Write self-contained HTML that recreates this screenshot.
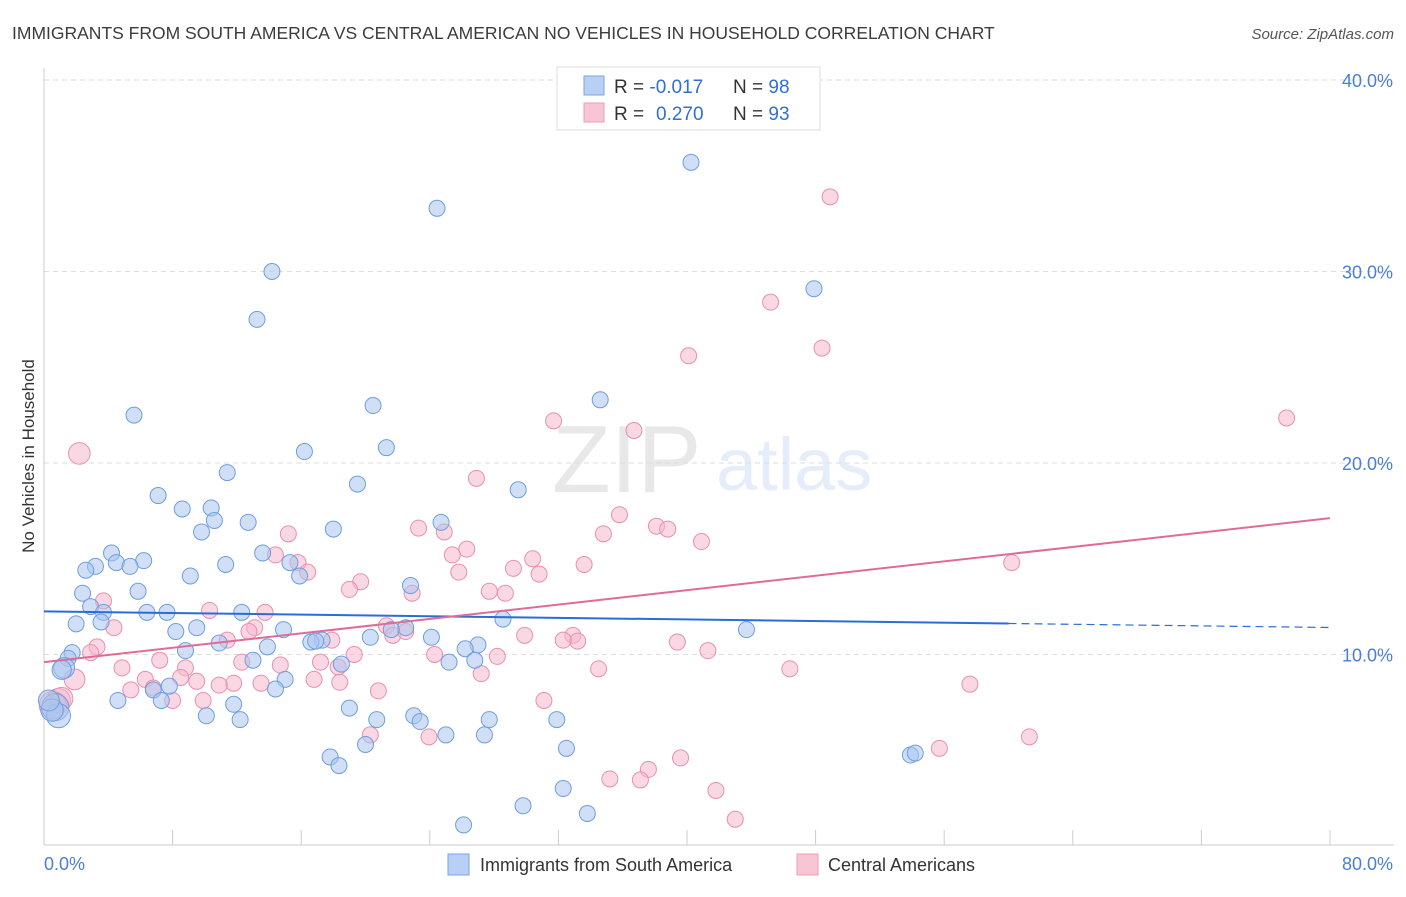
<!DOCTYPE html>
<html><head><meta charset="utf-8">
<style>
body{margin:0;background:#fff;font-family:"Liberation Sans",sans-serif;}
svg text{font-family:"Liberation Sans",sans-serif;}
</style></head>
<body>
<svg id="chart" width="1406" height="892" xmlns="http://www.w3.org/2000/svg">
<text x="12" y="39" font-size="17.5" fill="#3c3c3c">IMMIGRANTS FROM SOUTH AMERICA VS CENTRAL AMERICAN NO VEHICLES IN HOUSEHOLD CORRELATION CHART</text>
<text x="1394" y="39" font-size="15" fill="#555" text-anchor="end" font-style="italic">Source: ZipAtlas.com</text>
<text transform="translate(34,456) rotate(-90)" font-size="17" fill="#333" text-anchor="middle">No Vehicles in Household</text>
<g opacity="0.13">
<text x="552" y="492" font-size="96" font-family="Liberation Serif,serif" fill="#555">ZIP</text>
<text x="716" y="490" font-size="74" fill="#3a78d4">atlas</text>
</g>
<g id="grid"></g>
<g id="axes"></g>
<g id="pts"></g>
<g id="lines"></g>
<g>
<rect x="557" y="67" width="263" height="63" fill="#fff" stroke="#ddd"/>
<rect x="584" y="76" width="20" height="19" fill="#b7d0f3" stroke="#7aa6e6"/>
<rect x="584" y="103" width="20" height="19" fill="#f8c5d5" stroke="#ee9bb8"/>
<text x="614" y="93" font-size="19" fill="#333">R = <tspan fill="#2f6fd6">-0.017</tspan><tspan x="733">N = </tspan><tspan fill="#2f6fd6">98</tspan></text>
<text x="614" y="120" font-size="19" fill="#333">R = <tspan x="656" fill="#2f6fd6">0.270</tspan><tspan x="733">N = </tspan><tspan fill="#2f6fd6">93</tspan></text>
</g>
<g>
<rect x="448" y="854" width="21" height="21" fill="#b7d0f3" stroke="#7aa6e6"/>
<text x="480" y="871" font-size="18" fill="#333">Immigrants from South America</text>
<rect x="797" y="854" width="21" height="21" fill="#f8c5d5" stroke="#ee9bb8"/>
<text x="828" y="871" font-size="18" fill="#333">Central Americans</text>
</g>
</svg>
<script>
const blueX=[40.25,24.45,14.18,47.9,13.25,34.6,5.6,20.47,21.3,16.2,11.4,29.5,19.5,7.1,8.6,10.4,10.6,12.7,24.7,18.0,9.8,4.2,6.2,4.5,3.2,2.6,5.35,13.6,15.3,11.3,9.1,15.9,22.8,2.4,5.85,2.9,7.65,6.4,3.7,12.3,28.55,3.55,2.0,8.2,9.5,14.9,43.7,22.5,21.6,20.3,24.1,17.3,16.6,16.9,13.9,27.0,26.2,1.75,8.8,10.9,1.5,1.25,26.8,25.2,13.0,18.5,1.1,15.0,14.4,7.8,6.8,4.6,7.3,11.8,19.0,10.1,12.2,20.7,23.0,23.4,27.7,31.9,25.0,27.4,20.0,32.5,17.8,18.35,53.9,54.2,29.8,32.3,33.8,26.1,0.7,0.9,0.5,0.3];
const blueY=[35.7,33.3,30.0,29.1,27.5,23.3,22.5,23.0,20.8,20.6,19.5,18.6,18.9,18.3,17.6,17.65,17.0,16.9,16.9,16.55,16.4,15.3,14.9,14.8,14.6,14.4,14.6,15.3,14.8,14.7,14.1,14.1,13.6,13.2,13.3,12.5,12.2,12.2,12.2,12.2,11.85,11.7,11.6,11.2,11.4,11.3,11.3,11.4,11.3,10.9,10.9,10.75,10.65,10.7,10.4,10.5,10.3,10.1,10.2,10.6,9.8,9.3,9.7,9.6,9.7,9.5,9.2,8.7,8.2,8.35,8.15,7.6,7.6,7.4,7.2,6.8,6.6,6.6,6.8,6.5,6.6,6.6,5.8,5.8,5.3,5.1,4.65,4.2,4.75,4.85,2.1,3.0,1.7,1.1,7.25,6.8,7.1,7.6];
const blueSize=[1,1,1,1,1,1,1,1,1,1,1,1,1,1,1,1,1,1,1,1,1,1,1,1,1,1,1,1,1,1,1,1,1,1,1,1,1,1,1,1,1,1,1,1,1,1,1,1,1,1,1,1,1,1,1,1,1,1,1,1,1,1.3,1,1,1,1,1.2,1,1,1,1,1,1,1,1,1,1,1,1,1,1,1,1,1,1,1,1,1,1,1,1,1,1,1,1.7,1.5,1.4,1.3];
const pinkX=[48.9,45.2,48.4,40.1,77.3,31.7,36.7,2.2,26.9,35.8,38.1,38.8,23.3,24.9,34.8,40.9,15.2,26.3,25.4,30.4,14.4,15.8,16.4,33.6,60.2,29.2,30.8,25.8,19.7,19.0,22.9,27.7,28.7,3.7,10.3,13.75,4.35,13.1,21.3,29.9,32.9,33.2,32.3,21.7,12.75,11.4,39.4,3.3,2.9,22.5,41.3,17.9,19.3,24.3,28.2,12.3,17.2,14.7,4.85,7.2,8.8,18.3,34.5,46.4,1.9,6.3,8.5,9.5,11.8,10.9,13.5,16.8,18.4,27.2,5.4,6.8,8.0,9.9,20.8,31.1,57.6,0.9,1.1,0.55,20.3,23.95,61.3,55.7,39.6,37.6,35.2,37.1,41.8,43.0];
const pinkY=[33.9,28.4,26.0,25.6,22.35,22.2,21.7,20.5,19.2,17.3,16.7,16.55,16.6,16.4,16.3,15.9,16.3,15.5,15.2,15.0,15.2,14.8,14.3,14.7,14.8,14.5,14.2,14.3,13.8,13.4,13.2,13.3,13.2,12.8,12.3,12.2,11.4,11.4,11.5,11.0,11.0,10.7,10.75,11.0,11.2,10.75,10.65,10.4,10.1,11.2,10.2,10.75,10.0,10.0,9.9,9.6,9.6,9.45,9.3,9.7,9.3,9.35,9.25,9.25,8.7,8.7,8.8,8.6,8.5,8.4,8.5,8.7,8.55,9.0,8.15,8.25,7.6,7.6,8.1,7.6,8.45,7.6,7.7,7.35,5.8,5.7,5.7,5.1,4.6,4.0,3.5,3.45,2.9,1.4];
const pinkSize=[1,1,1,1,1,1,1,1.35,1,1,1,1,1,1,1,1,1,1,1,1,1,1,1,1,1,1,1,1,1,1,1,1,1,1,1,1,1,1,1,1,1,1,1,1,1,1,1,1,1,1,1,1,1,1,1,1,1,1,1,1,1,1,1,1,1.3,1,1,1,1,1,1,1,1,1,1,1,1,1,1,1,1,1.5,1.4,1.7,1,1,1,1,1,1,1,1,1,1];
const blueTrend=[12.25,-0.0105];
const pinkTrend=[9.6,0.094];
const yTicks=[10,20,30,40];
const yTickLabels=["10.0%","20.0%","30.0%","40.0%"];
const xTickVals=[0,8,16,24,32,40,48,56,64,72,80];
const NS="http://www.w3.org/2000/svg";
const X=v=>44+v*1286/80;
const Y=v=>846-v*19.15;
function mk(tag,attrs,parent){const e=document.createElementNS(NS,tag);for(const k in attrs)e.setAttribute(k,attrs[k]);parent.appendChild(e);return e;}
const grid=document.getElementById('grid'),axes=document.getElementById('axes'),pts=document.getElementById('pts'),lines=document.getElementById('lines');
yTicks.forEach((t,i)=>{
 const l=mk('line',{x1:44,x2:1394,y1:Y(t),y2:Y(t),stroke:'#ddd','stroke-dasharray':'5,4'},grid);
 
 
 const tx=mk('text',{x:1393,y:Y(t)+7,'font-size':18,fill:'#4a7fd4','text-anchor':'end'},axes);
 tx.textContent=yTickLabels[i];
 
 
});
const ax=mk('line',{x1:44,x2:1394,y1:845,y2:845,stroke:'#ccc'},axes);


const ay=mk('line',{x1:44,x2:44,y1:68,y2:845,stroke:'#ccc'},axes);


xTickVals.forEach(v=>{
 const t=mk('line',{x1:X(v),x2:X(v),y1:830,y2:845,stroke:'#ccc'},axes);
 
 
});
const xl0=mk('text',{x:44,y:870,'font-size':18,fill:'#4a7fd4'},axes);xl0.textContent='0.0%';


const xl1=mk('text',{x:1393,y:870,'font-size':18,fill:'#4a7fd4','text-anchor':'end'},axes);xl1.textContent='80.0%';


function series(xs,ys,sz,fill,stroke,name){
 xs.forEach((x,i)=>{
  const c=mk('circle',{cx:X(x),cy:Y(ys[i]),r:8*sz[i],fill:fill,'fill-opacity':0.55,stroke:stroke,'stroke-width':1},pts);
  
  
 });
}
series(pinkX,pinkY,pinkSize,'#f6b8cc','#ea8fae','point-central-americans');
series(blueX,blueY,blueSize,'#a9c5ee','#6d9ee0','point-south-america');
const b1=mk('line',{x1:X(0),y1:Y(blueTrend[0]),x2:X(60),y2:Y(blueTrend[0]+blueTrend[1]*60),stroke:'#2a6dd6','stroke-width':2},lines);


const b2=mk('line',{x1:X(60),y1:Y(blueTrend[0]+blueTrend[1]*60),x2:X(80),y2:Y(blueTrend[0]+blueTrend[1]*80),stroke:'#2a6dd6','stroke-width':1.2,'stroke-dasharray':'8,5'},lines);


const p1=mk('line',{x1:X(0),y1:Y(pinkTrend[0]),x2:X(80),y2:Y(pinkTrend[0]+pinkTrend[1]*80),stroke:'#e06b98','stroke-width':2},lines);


</script>
</body></html>
